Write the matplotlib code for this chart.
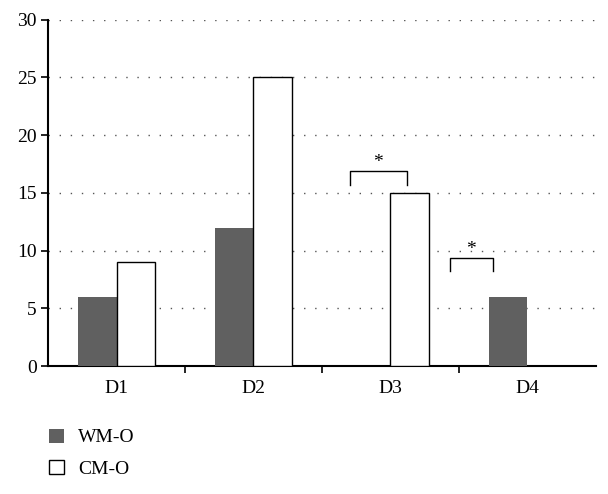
import matplotlib
matplotlib.use("Agg")
import matplotlib.pyplot as plt
import numpy as np
from matplotlib.patches import Patch

plt.rcParams['font.family'] = ['Liberation Serif', 'DejaVu Serif']

categories = ["D1", "D2", "D3", "D4"]
wm_o = [6, 12, 0, 6]
cm_o = [9, 25, 15, 0]
yticks = [0, 5, 10, 15, 20, 25, 30]

fig = plt.figure(figsize=(6.08, 4.94), dpi=100)
ax = fig.add_axes([0.079, 0.259, 0.901, 0.701])

x = np.arange(len(categories))
w = 0.28
ax.bar(x - w / 2, wm_o, w, color="#606060", edgecolor="none", zorder=3, label="WM-O")
ax.bar(x + w / 2, cm_o, w, color="white", edgecolor="black", linewidth=1.0, zorder=3, label="CM-O")

ax.set_xlim(-0.5, 3.5)
ax.set_ylim(0, 30)
ax.set_yticks(yticks)
ax.set_yticklabels([str(t) for t in yticks], fontsize=14)
ax.yaxis.grid(True, linestyle=(0, (1, 7)), color="#555555", linewidth=1.0, zorder=0)

ax.set_xticks(x)
ax.set_xticklabels(categories, fontsize=14)
ax.tick_params(axis="x", which="major", length=0, pad=10)
ax.set_xticks(np.arange(0.5, 3.0, 1.0), minor=True)
ax.tick_params(axis="x", which="minor", length=5, width=1.2, direction="out")
ax.tick_params(axis="y", length=5, width=1.2, direction="out", pad=3)

for s in ["top", "right"]:
    ax.spines[s].set_visible(False)
for s in ["left", "bottom"]:
    ax.spines[s].set_linewidth(1.5)

def bracket(x0, x1, ytop, ybot, star_y):
    ax.plot([x0, x0, x1, x1], [ybot, ytop, ytop, ybot], color="black", linewidth=1.0, zorder=4)
    ax.text((x0 + x1) / 2, star_y, "*", ha="center", va="center", fontsize=14)

bracket(1.704, 2.12, 16.9, 15.7, 17.6)
bracket(2.434, 2.748, 9.4, 8.2, 10.1)

handles = [Patch(facecolor="#606060", edgecolor="none"),
           Patch(facecolor="white", edgecolor="black", linewidth=1.0)]
fig.legend(handles, ["WM-O", "CM-O"], loc="upper left", bbox_to_anchor=(0.052, 0.168),
           frameon=False, fontsize=14, handlelength=0.75, handleheight=0.75,
           handletextpad=0.75, labelspacing=0.7)

fig.savefig("out.png", dpi=100)
